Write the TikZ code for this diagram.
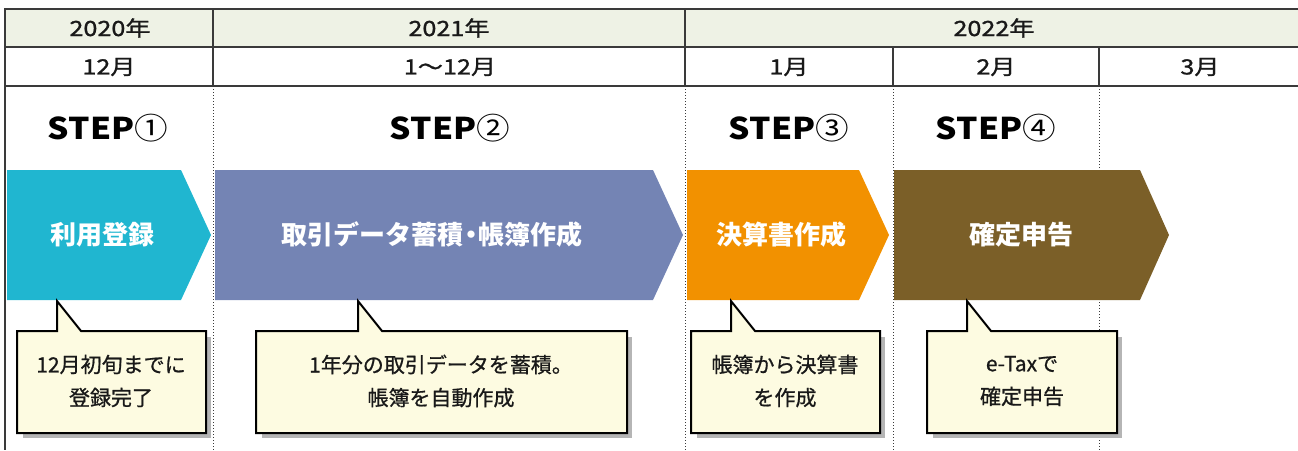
\documentclass[tikz,border=0pt]{standalone}
\usepackage{fontspec}
\setmainfont{Noto Sans CJK JP}
\newfontfamily\hdrfont[FakeStretch=1.2,FakeBold=1.2]{Noto Sans CJK JP}
\newfontfamily\notefont[FakeBold=0.8]{Noto Sans CJK JP}
\newfontfamily\stepfont[FakeStretch=1.12]{Noto Sans CJK JP}

\definecolor{hdrgreen}{HTML}{EEF2E5}
\definecolor{gridgray}{HTML}{3A3A3A}
\definecolor{stepcyan}{HTML}{20B6D0}
\definecolor{stepblue}{HTML}{7484B4}
\definecolor{steporange}{HTML}{F29100}
\definecolor{stepbrown}{HTML}{7B5F28}
\definecolor{notefill}{HTML}{FDFBE1}
\definecolor{noteshadow}{HTML}{B5B5B5}

\tikzset{
  grid/.style={draw=gridgray, line width=1.6},
  sep/.style={draw=gridgray, line width=1, dotted},
  hdr/.style={font=\hdrfont\fontsize{21}{24}\selectfont, text=black!90},
  steplabel/.style={font=\stepfont\bfseries\fontsize{30}{36}\selectfont},
  tasklabel/.style={font=\bfseries\fontsize{26}{30}\selectfont, text=white},
  note/.style={font=\notefont\fontsize{21}{33}\selectfont, align=center, text=black!90},
}

\begin{document}
\begin{tikzpicture}[x=1pt, y=-1pt]
  \useasboundingbox (0,0) rectangle (1298,450);

  % table head
  \fill[hdrgreen] (5,9) rectangle (1298,47);
  \draw[grid] (1298,9) -- (5,9) -- (5,450);
  \draw[grid] (5,47) -- (1298,47) (5,86) -- (1298,86);
  \draw[grid] (213,9) -- (213,86) (685,9) -- (685,86)
              (893,47) -- (893,86) (1099,47) -- (1099,86);
  \foreach \x in {213,685,893,1099}
    \draw[sep] (\x,86) -- (\x,450);

  \node[hdr] (y2020) at (110,28) {2020年};
  \node[hdr] (y2021) at (449,28) {2021年};
  \node[hdr] (y2022) at (994,28) {2022年};
  \node[hdr] (m2012) at (109,67) {12月};
  \node[hdr] (m2021) at (450,67) {1～12月};
  \node[hdr] (m2201) at (789,67) {1月};
  \node[hdr] (m2202) at (996,67) {2月};
  \node[hdr] (m2203) at (1200,67) {3月};

  % steps
  \node[steplabel] (step1) at (108,128) {STEP{\mdseries ①}};
  \node[steplabel] (step2) at (450,128) {STEP{\mdseries ②}};
  \node[steplabel] (step3) at (789,128) {STEP{\mdseries ③}};
  \node[steplabel] (step4) at (996,128) {STEP{\mdseries ④}};

  \fill[stepcyan] (7,170) -- (181,170) -- (211,235) -- (181,300) -- (7,300) -- cycle;
  \fill[stepblue] (215,170) -- (653,170) -- (683,235) -- (653,300) -- (215,300) -- cycle;
  \fill[steporange] (687,170) -- (859,170) -- (889,235) -- (859,300) -- (687,300) -- cycle;
  \fill[stepbrown] (894,170) -- (1140,170) -- (1169,235) -- (1140,300) -- (894,300) -- cycle;

  \node[tasklabel] (task1) at (102,235) {利用登録};
  \node[tasklabel] (task2) at (432,235) {取引データ蓄積\kern-0.22em・\kern-0.22em帳簿作成};
  \node[tasklabel] (task3) at (781,235) {決算書作成};
  \node[tasklabel] (task4) at (1021,235) {確定申告};

  % callouts
  \foreach \l/\r/\p in {17/206/57, 256/627/358, 691/880/731, 927/1117/967} {
    \fill[noteshadow] (\l+6,337) rectangle (\r+5,438);
    \filldraw[fill=notefill, draw=black, line width=2, line join=miter]
      (\l,331) -- (\p,331) -- (\p,301) -- (\p+24,331) -- (\r,331)
      -- (\r,433) -- (\l,433) -- cycle;
  }

  \node[note] (note1) at (111,381) {12月初旬までに\\登録完了};
  \node[note] (note2) at (441,381) {1年分の取引データを蓄積。\\帳簿を自動作成};
  \node[note] (note3) at (785,381) {帳簿から決算書\\を作成};
  \node[note] (note4) at (1022,381) {e-Taxで\\確定申告};
\end{tikzpicture}
\end{document}
